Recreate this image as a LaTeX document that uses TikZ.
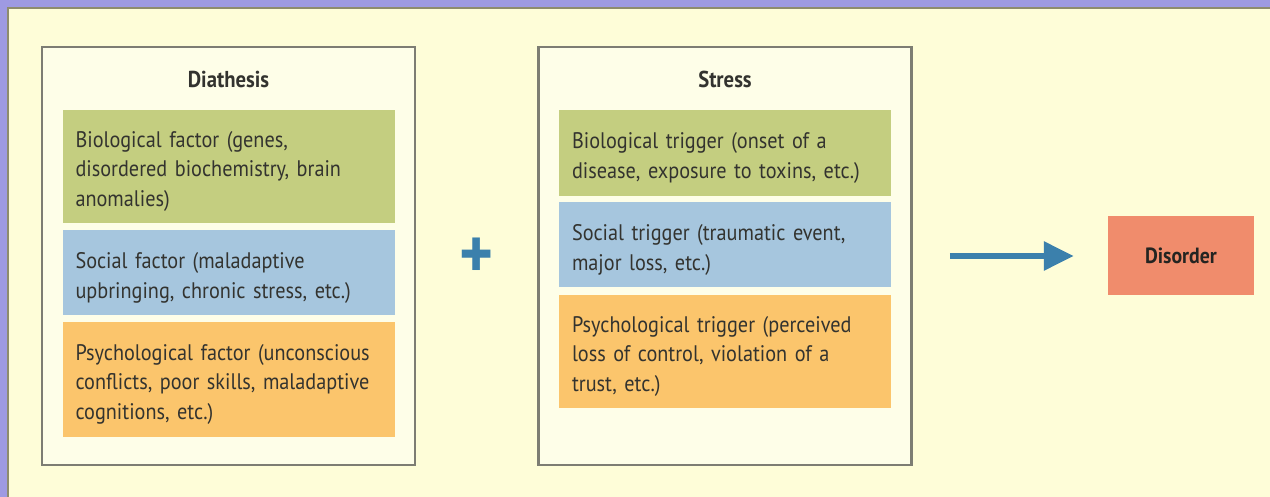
\documentclass[tikz,border=0pt]{standalone}
\usepackage{fontspec}
\setmainfont{PT Sans}[FakeStretch=0.9]
\usetikzlibrary{arrows.meta, positioning}

\definecolor{lavender}{HTML}{9E9AE2}
\definecolor{cream}{HTML}{FEFDD8}
\definecolor{edgeolive}{HTML}{8E8C6E}
\definecolor{framegray}{HTML}{7D7D73}
\definecolor{bioGreen}{HTML}{C4CE80}
\definecolor{socBlue}{HTML}{A6C6DE}
\definecolor{psyOrange}{HTML}{FBC56C}
\definecolor{disSalmon}{HTML}{F08C6C}
\definecolor{flowBlue}{HTML}{3B80AC}
\definecolor{txtgray}{HTML}{33332F}

\begin{document}
\begin{tikzpicture}[x=1pt, y=-1pt,
    framebox/.style={draw=framegray, line width=2.5pt, fill=cream!60!white,
        minimum width=373pt, minimum height=418pt},
    titlenode/.style={font=\fontsize{23}{23}\selectfont\bfseries, text=txtgray, inner sep=0pt},
    factorbox/.style={minimum width=332pt, text width=306pt, inner xsep=13pt, inner ysep=0pt,
        align=left, text=txtgray, font=\fontsize{22.5}{29.5}\selectfont, text height=26pt},
    resultbox/.style={fill=disSalmon, minimum width=146pt, minimum height=79pt,
        font=\fontsize{22}{22}\selectfont\bfseries, text=txtgray!70!black},
    plussign/.style={font=\fontsize{72}{72}\selectfont\bfseries, text=flowBlue, inner sep=0pt},
    flow/.style={draw=flowBlue, line width=6pt, -{Triangle[length=30pt, width=28pt]}}
]

% Background
\useasboundingbox (0,0) rectangle (1270,497);
\fill[lavender] (0,0) rectangle (1270,497);
\fill[cream] (8,8) rectangle (1270,497);
\draw[edgeolive, line width=1.5pt] (8,497) -- (8,8) -- (1270,8);

% Diathesis
\node[framebox] (dia) at (228.5,256) {};
\node[titlenode, below=25pt of dia.north] (diaT) {Diathesis};
\node[factorbox, fill=bioGreen, minimum height=113pt, below=64pt of dia.north] (dBio)
    {Biological factor (genes,\\disordered biochemistry, brain\\anomalies)};
\node[factorbox, fill=socBlue, minimum height=85pt, below=7pt of dBio] (dSoc)
    {Social factor (maladaptive\\upbringing, chronic stress, etc.)};
\node[factorbox, fill=psyOrange, minimum height=115pt, below=6pt of dSoc] (dPsy)
    {Psychological factor (unconscious\\conflicts, poor skills, maladaptive\\cognitions, etc.)};

% Stress
\node[framebox] (st) at (725,256) {};
\node[titlenode, below=25pt of st.north] (stT) {Stress};
\node[factorbox, fill=bioGreen, minimum height=86pt, below=64pt of st.north] (sBio)
    {Biological trigger (onset of a\\disease, exposure to toxins, etc.)};
\node[factorbox, fill=socBlue, minimum height=85pt, below=6pt of sBio] (sSoc)
    {Social trigger (traumatic event,\\major loss, etc.)};
\node[factorbox, fill=psyOrange, minimum height=113pt, below=7pt of sSoc] (sPsy)
    {Psychological trigger (perceived\\loss of control, violation of a\\trust, etc.)};

% Plus and result
\node[plussign] (plus) at (477,258) {+};
\node[resultbox, right=195pt of st] (dis) {Disorder};

\draw[flow, shorten <=37pt, shorten >=34pt] (st.east) -- (dis.west);

\end{tikzpicture}
\end{document}
